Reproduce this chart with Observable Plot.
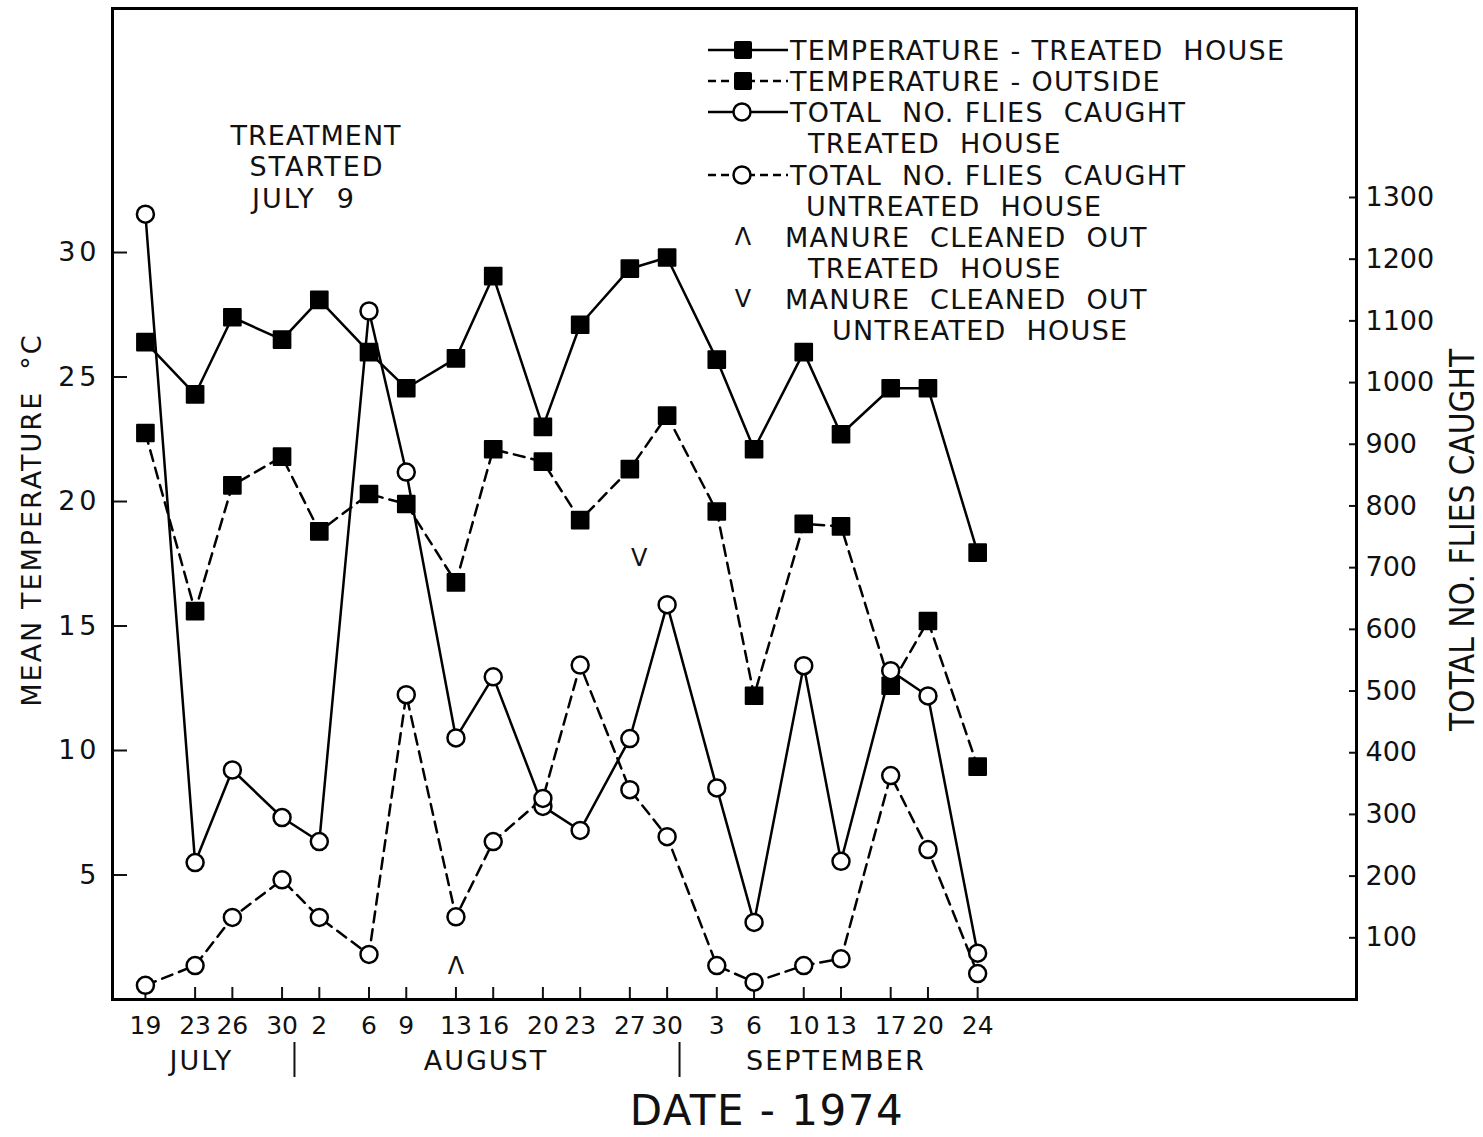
<!DOCTYPE html>
<html><head><meta charset="utf-8">
<script src="https://cdn.jsdelivr.net/npm/d3@7"></script>
<script src="https://cdn.jsdelivr.net/npm/@observablehq/plot@0.6"></script>
<style>
body{margin:0;background:#fff;}
#wrap{position:relative;width:1483px;height:1137px;font-family:"DejaVu Sans",sans-serif;color:#111;overflow:hidden;}
#wrap svg{position:absolute;left:0;top:0;overflow:visible;}
.ov{position:absolute;white-space:pre;line-height:1;font-size:27px;}
.c{transform:translate(-50%,-50%);}
.l{transform:translate(0,-50%);}
.rot{transform:translate(-50%,-50%) rotate(-90deg);}
</style></head><body><div id="wrap"></div>
<script>
// ---- data ----
const dates = ["1974-07-19","1974-07-23","1974-07-26","1974-07-30","1974-08-02","1974-08-06","1974-08-09","1974-08-13","1974-08-16","1974-08-20","1974-08-23","1974-08-27","1974-08-30","1974-09-03","1974-09-06","1974-09-10","1974-09-13","1974-09-17","1974-09-20","1974-09-24"];
const tempTreated   = [26.4,24.3,27.4,26.5,28.1,26.0,24.55,25.75,29.05,23.0,27.1,29.35,29.8,25.7,22.1,26.0,22.7,24.55,24.55,17.95];
const tempOutside   = [22.75,15.6,20.65,21.8,18.8,20.3,19.9,16.75,22.1,21.6,19.25,21.3,23.45,19.6,12.2,19.1,19.0,12.6,15.2,9.35];
const fliesTreated  = [1273,222,372,295,256,1116,855,424,523,313,274,423,640,343,125,541,224,533,492,75];
const fliesUntreated= [23,55,133,194,133,73,494,134,256,326,542,340,264,55,28,55,66,363,243,42];
const tempTicks  = [5,10,15,20,25,30];
const fliesTicks = [100,200,300,400,500,600,700,800,900,1000,1100,1200,1300];
const monthLabels = ["JULY","AUGUST","SEPTEMBER"];
const monthLabelDates = ["1974-07-23T12:00","1974-08-15T10:00","1974-09-12T14:00"];
const monthBreaks = ["1974-07-31","1974-08-31"];
const manureTreatedDates = ["1974-08-13"];
const manureTreatedLevel = [1.35];
const manureUntreatedDates = ["1974-08-27T18:00"];
const manureUntreatedLevel = [17.7];

// flies per degree C (right axis vs left axis)
const K = 40.36;
const DAY = 864e5;
const parse = s => new Date(s.length > 10 ? s + "Z" : s + "T00:00Z");

const rows = dates.map((d, i) => ({
  date: parse(d), tT: tempTreated[i], tO: tempOutside[i],
  fT: fliesTreated[i] / K, fU: fliesUntreated[i] / K
}));
const months = monthLabels.map((m, i) => ({label: m, date: parse(monthLabelDates[i])}));
const manureT = manureTreatedDates.map((d, i) => ({date: parse(d), y: manureTreatedLevel[i]}));
const manureU = manureUntreatedDates.map((d, i) => ({date: parse(d), y: manureUntreatedLevel[i]}));

const t0 = Date.UTC(1974, 6, 19);
const chart = Plot.plot({
  width: 1483, height: 1137,
  marginLeft: 112, marginRight: 127, marginTop: 8, marginBottom: 138,
  style: {fontFamily: "DejaVu Sans", background: "white", color: "#111", overflow: "visible"},
  x: {type: "utc", domain: [new Date(t0 - 2.65 * DAY), new Date(t0 + 97.5 * DAY)]},
  y: {domain: [0, 39.8]},
  marks: [
    Plot.axisY(tempTicks, {anchor: "left", tickSize: -15, tickPadding: 27, fontSize: 27, strokeWidth: 2, label: null}),
    Plot.axisY(fliesTicks.map(f => f / K), {anchor: "right", tickSize: -8, tickPadding: 17, fontSize: 27, strokeWidth: 2, tickFormat: d => String(Math.round(d * K / 100) * 100), label: null}),
    Plot.axisX(dates.map(parse), {anchor: "bottom", tickSize: -12, tickPadding: 29, fontSize: 25, strokeWidth: 2, tickFormat: d => d.getUTCDate(), label: null}),
    Plot.axisX(monthBreaks.map(parse), {anchor: "bottom", tickSize: 35, dy: 43, strokeWidth: 2, tickFormat: () => "", label: null}),
    Plot.text(months, {x: "date", text: "label", frameAnchor: "bottom", dy: 70, fontSize: 27}),
    Plot.line(rows, {x: "date", y: "tT", stroke: "black", strokeWidth: 2.5}),
    Plot.line(rows, {x: "date", y: "tO", stroke: "black", strokeWidth: 2.5, strokeDasharray: "11,7"}),
    Plot.line(rows, {x: "date", y: "fT", stroke: "black", strokeWidth: 2.5}),
    Plot.line(rows, {x: "date", y: "fU", stroke: "black", strokeWidth: 2.5, strokeDasharray: "11,7"}),
    Plot.dot(rows, {x: "date", y: "tT", symbol: "square", r: 9.4, fill: "black", stroke: "black", strokeWidth: 2, strokeLinejoin: "round"}),
    Plot.dot(rows, {x: "date", y: "tO", symbol: "square", r: 9.4, fill: "black", stroke: "black", strokeWidth: 2, strokeLinejoin: "round"}),
    Plot.dot(rows, {x: "date", y: "fT", r: 8.5, fill: "white", stroke: "black", strokeWidth: 2.5}),
    Plot.dot(rows, {x: "date", y: "fU", r: 8.5, fill: "white", stroke: "black", strokeWidth: 2.5}),
    Plot.text(manureT, {x: "date", y: "y", text: () => "Λ", fontSize: 24}),
    Plot.text(manureU, {x: "date", y: "y", text: () => "V", fontSize: 24}),
    Plot.frame({stroke: "black", strokeWidth: 3})
  ]
});
const wrap = document.getElementById("wrap");
wrap.appendChild(chart);
const tl = d3.select(chart).selectAll('g[aria-label="y-axis tick label"]');
d3.select(tl.nodes()[0]).style("letter-spacing", "4px");
d3.select(chart).selectAll("text").filter(function() { return monthLabels.includes(this.textContent); })
  .style("letter-spacing", "2px");

// ---- overlay texts (titles, note, legend) ----
function add(html, x, y, cls, extra) {
  const d = document.createElement("div");
  d.className = "ov " + cls;
  d.style.left = x + "px"; d.style.top = y + "px";
  if (extra) Object.assign(d.style, extra);
  d.textContent = html;
  wrap.appendChild(d);
  return d;
}
add("MEAN TEMPERATURE  °C", 31, 520, "rot", {fontSize: "27px", letterSpacing: "2px"});
add("TOTAL NO. FLIES CAUGHT", 1462, 540, "rot", {fontSize: "33px", fontStretch: "condensed", fontFamily: "'DejaVu Sans Condensed','DejaVu Sans',sans-serif"});
add("DATE - 1974", 767, 1111, "c", {fontSize: "42px", letterSpacing: "1.5px"});
add("TREATMENT", 316, 135, "c", {letterSpacing: "1px"});
add("STARTED", 317, 166, "c", {letterSpacing: "2px"});
add("JULY  9", 304, 198, "c", {letterSpacing: "2px"});

const legendRows = [
  {y: 50, sym: "square", dash: false, text: "TEMPERATURE - TREATED  HOUSE", x: 790},
  {y: 81, sym: "square", dash: true, text: "TEMPERATURE - OUTSIDE", x: 790},
  {y: 112, sym: "circle", dash: false, text: "TOTAL  NO. FLIES  CAUGHT", x: 790},
  {y: 143, text: "TREATED  HOUSE", x: 808},
  {y: 175, sym: "circle", dash: true, text: "TOTAL  NO. FLIES  CAUGHT", x: 790},
  {y: 206, text: "UNTREATED  HOUSE", x: 806},
  {y: 237, glyph: "Λ", text: "MANURE  CLEANED  OUT", x: 785},
  {y: 268, text: "TREATED  HOUSE", x: 808},
  {y: 299, glyph: "V", text: "MANURE  CLEANED  OUT", x: 785},
  {y: 330, text: "UNTREATED  HOUSE", x: 832}
];
const ns = "http://www.w3.org/2000/svg";
for (const r of legendRows) {
  add(r.text, r.x, r.y, "l", {letterSpacing: "1.3px"});
  if (r.glyph) add(r.glyph, 743, r.y, "c", {fontSize: "24px"});
  if (r.sym) {
    const s = document.createElementNS(ns, "svg");
    s.setAttribute("width", 84); s.setAttribute("height", 24);
    s.style.left = "706px"; s.style.top = (r.y - 12) + "px";
    const ln = document.createElementNS(ns, "line");
    ln.setAttribute("x1", 2); ln.setAttribute("x2", 82); ln.setAttribute("y1", 12); ln.setAttribute("y2", 12);
    ln.setAttribute("stroke", "black"); ln.setAttribute("stroke-width", 2.5);
    if (r.dash) ln.setAttribute("stroke-dasharray", "8,5");
    s.appendChild(ln);
    if (r.sym === "square") {
      const q = document.createElementNS(ns, "rect");
      q.setAttribute("x", 28); q.setAttribute("y", 3); q.setAttribute("width", 18); q.setAttribute("height", 18);
      q.setAttribute("rx", 2); q.setAttribute("fill", "black");
      s.appendChild(q);
    } else {
      const c = document.createElementNS(ns, "circle");
      c.setAttribute("cx", 36); c.setAttribute("cy", 12); c.setAttribute("r", 8.5);
      c.setAttribute("fill", "white"); c.setAttribute("stroke", "black"); c.setAttribute("stroke-width", 2.5);
      s.appendChild(c);
    }
    wrap.appendChild(s);
  }
}
</script></body></html>
